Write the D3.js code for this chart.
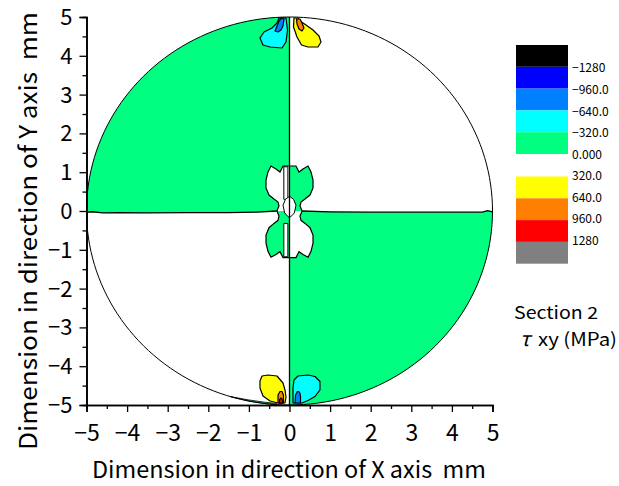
<!DOCTYPE html>
<html>
<head>
<meta charset="utf-8">
<script src="https://cdn.jsdelivr.net/npm/d3@7"></script>
<style>
  html, body { margin: 0; padding: 0; background: #fff; }
  svg { display: block; }
  text { font-family: "Noto Sans CJK JP", "Noto Sans", sans-serif; fill: #000; }
</style>
</head>
<body>
<svg id="chart" width="619" height="486"></svg>
<script>
// ---- Section 2, shear stress tau_xy contour map (values in MPa, positions in mm) ----
const radius = 5;
const xTicks = [-5, -4, -3, -2, -1, 0, 1, 2, 3, 4, 5];
const yTicks = [-5, -4, -3, -2, -1, 0, 1, 2, 3, 4, 5];
const minorTicks = [-4.5, -3.5, -2.5, -1.5, -0.5, 0.5, 1.5, 2.5, 3.5, 4.5];

// contour levels and band colours
const negLevels = ["−1280", "−960.0", "−640.0", "−320.0", "0.000"];
const negColors = ["#000000", "#0000ff", "#0080ff", "#00ffff", "#00ff80"];
const posLevels = ["320.0", "640.0", "960.0", "1280"];
const posColors = ["#ffff00", "#ff8000", "#ff0000", "#808080"];

// zero contour along the X axis
const zeroLineLeft = [[-5, -0.03], [-4.85, -0.02], [-4.6, -0.05], [-4.2, -0.04], [-3.5, -0.05], [-2.5, -0.04],
  [-1.5, -0.04], [-0.8, -0.03], [-0.31, 0]];
const zeroLineRight = [[0.31, 0], [1, -0.02], [2, -0.03], [3, -0.03], [4, -0.03], [4.75, -0.03], [4.88, 0.01], [5, -0.02]];

// lobes next to the centre (open outlines from the Y axis round to the X axis)
const lobeUpperLeft = [[0, 1.16], [-0.16, 1.16], [-0.234, 1.005], [-0.333, 1.082], [-0.456, 1.16], [-0.53, 1.005],
  [-0.579, 0.799], [-0.579, 0.593], [-0.505, 0.412], [-0.382, 0.309], [-0.283, 0.232], [-0.259, 0.129], [-0.31, 0]];
const lobeUpperRight = [[0, 1.16], [0.16, 1.16], [0.234, 1.005], [0.333, 1.082], [0.456, 1.16], [0.53, 1.005],
  [0.579, 0.799], [0.579, 0.593], [0.505, 0.412], [0.382, 0.309], [0.283, 0.232], [0.259, 0.129], [0.31, 0]];
const lobeLowerLeft = [[0, -1.2], [-0.16, -1.2], [-0.234, -1.05], [-0.333, -1.12], [-0.456, -1.19], [-0.53, -1.04],
  [-0.579, -0.83], [-0.579, -0.62], [-0.505, -0.43], [-0.382, -0.32], [-0.283, -0.24], [-0.259, -0.13], [-0.31, 0]];
const lobeLowerRight = [[0, -1.2], [0.16, -1.2], [0.234, -1.05], [0.333, -1.12], [0.456, -1.19], [0.53, -1.04],
  [0.579, -0.83], [0.579, -0.62], [0.505, -0.43], [0.382, -0.32], [0.283, -0.24], [0.259, -0.13], [0.31, 0]];

// narrow bands hugging the Y axis near the centre
const stripUpper = [[-0.14, 1.14], [-0.04, 1.14], [-0.04, 0.3], [-0.14, 0.3]];
const stripLower = [[-0.14, -0.32], [-0.04, -0.32], [-0.04, -1.18], [-0.14, -1.18]];
const centreKnot = [[-0.16, 0.15], [-0.1, 0.3], [0, 0.38], [0.1, 0.3], [0.16, 0.15], [0.12, -0.05], [0.03, -0.15],
  [-0.03, -0.15], [-0.12, -0.05]];

// concentrations at the top edge
const topCyan = [[-0.086, 4.974], [-0.049, 4.665], [-0.086, 4.356], [-0.185, 4.201], [-0.48, 4.227], [-0.653, 4.278],
  [-0.727, 4.459], [-0.628, 4.613], [-0.431, 4.716], [-0.308, 4.845], [-0.259, 4.974]];
const topBlue = [[-0.357, 4.639], [-0.308, 4.768], [-0.259, 4.897], [-0.197, 4.974], [-0.135, 4.948], [-0.16, 4.768],
  [-0.209, 4.665], [-0.283, 4.613]];
const topYellow = [[0.111, 4.974], [0.099, 4.742], [0.185, 4.485], [0.296, 4.278], [0.456, 4.227], [0.702, 4.227],
  [0.776, 4.356], [0.727, 4.51], [0.579, 4.665], [0.406, 4.794], [0.259, 4.897], [0.209, 4.974]];
const topOrange = [[0.172, 4.948], [0.185, 4.82], [0.234, 4.691], [0.308, 4.639], [0.357, 4.716], [0.308, 4.845],
  [0.259, 4.948]];

// concentrations at the bottom edge
const bottomYellow = [[-0.111, -4.948], [-0.086, -4.794], [-0.111, -4.613], [-0.16, -4.433], [-0.308, -4.253],
  [-0.53, -4.227], [-0.677, -4.253], [-0.727, -4.381], [-0.727, -4.562], [-0.653, -4.768], [-0.48, -4.897],
  [-0.283, -4.948]];
const bottomOrange = [[-0.283, -4.948], [-0.283, -4.742], [-0.234, -4.652], [-0.185, -4.652], [-0.148, -4.742],
  [-0.148, -4.948]];
const bottomRed = [[-0.246, -4.95], [-0.246, -4.86], [-0.209, -4.82], [-0.172, -4.86], [-0.172, -4.95]];
const bottomCyan = [[0.086, -4.948], [0.086, -4.562], [0.111, -4.356], [0.209, -4.253], [0.456, -4.227],
  [0.628, -4.265], [0.751, -4.394], [0.751, -4.613], [0.628, -4.781], [0.456, -4.884], [0.308, -4.948]];
const bottomBlue = [[0.136, -4.948], [0.148, -4.742], [0.197, -4.652], [0.246, -4.665], [0.271, -4.768],
  [0.271, -4.948]];
const bottomSliver = [[-1.45, -4.785], [-1.0, -4.87], [-0.6, -4.93], [-0.32, -4.96], [-0.32, -4.99], [-0.6, -4.964],
  [-1.0, -4.899], [-1.45, -4.785]];

// ---- drawing ----
const svg = d3.select("#chart");
const x = d3.scaleLinear().domain([-5, 5]).range([86.5, 492.5]);
const y = d3.scaleLinear().domain([-5, 5]).range([405, 17]);
const line = d3.line().x(d => x(d[0])).y(d => y(d[1]));
const closed = d3.line().x(d => x(d[0])).y(d => y(d[1])).curve(d3.curveLinearClosed);

function arc(a0, a1, n) {
  return d3.range(n + 1).map(i => {
    const a = a0 + (a1 - a0) * i / n;
    return [radius * Math.cos(a), radius * Math.sin(a)];
  });
}

const plot = svg.append("g");

// disc
plot.append("path").attr("d", closed(arc(0, 2 * Math.PI, 180))).attr("fill", "#fff");

// negative quadrants
const quadUpperLeft = arc(Math.PI, Math.PI / 2, 90).concat([[0, 0]], zeroLineLeft.slice().reverse());
const quadLowerRight = arc(0, -Math.PI / 2, 90).concat([[0, 0]], zeroLineRight);
plot.append("path").attr("d", closed(quadUpperLeft)).attr("fill", negColors[4]);
plot.append("path").attr("d", closed(quadLowerRight)).attr("fill", negColors[4]);
plot.append("path").attr("d", closed(bottomSliver)).attr("fill", negColors[4])
  .attr("stroke", "#000").attr("stroke-width", 0.8);

// lobes near the centre
const lobes = [
  { pts: lobeUpperLeft, fill: "#ffffff" },
  { pts: lobeUpperRight, fill: negColors[4] },
  { pts: lobeLowerLeft, fill: negColors[4] },
  { pts: lobeLowerRight, fill: "#ffffff" }
];
lobes.forEach(l => {
  plot.append("path").attr("d", closed([[0, 0]].concat(l.pts))).attr("fill", l.fill);
});
lobes.forEach(l => {
  plot.append("path").attr("d", line(l.pts)).attr("fill", "none").attr("stroke", "#000").attr("stroke-width", 1.2);
});

[stripUpper, stripLower].forEach(s => {
  plot.append("path").attr("d", closed(s)).attr("fill", "#fff").attr("stroke", "#000").attr("stroke-width", 1);
});
plot.append("path").attr("d", closed(centreKnot)).attr("fill", "#fff").attr("stroke", "#000").attr("stroke-width", 1);

// edge concentrations, outer band first
const blobs = [
  { pts: topCyan, fill: negColors[3] },
  { pts: topBlue, fill: negColors[2] },
  { pts: topYellow, fill: posColors[0] },
  { pts: topOrange, fill: posColors[1] },
  { pts: bottomYellow, fill: posColors[0] },
  { pts: bottomOrange, fill: posColors[1] },
  { pts: bottomRed, fill: posColors[2] },
  { pts: bottomCyan, fill: negColors[3] },
  { pts: bottomBlue, fill: negColors[2] }
];
blobs.forEach(b => {
  plot.append("path").attr("d", closed(b.pts)).attr("fill", b.fill)
    .attr("stroke", "#000").attr("stroke-width", 1.2).attr("stroke-linejoin", "round");
});

// zero contours along the axes
plot.append("path").attr("d", line([[0, 5], [0, -5]])).attr("stroke", "#000").attr("stroke-width", 1.3);
plot.append("path").attr("d", line(zeroLineLeft)).attr("fill", "none").attr("stroke", "#000").attr("stroke-width", 1.3);
plot.append("path").attr("d", line(zeroLineRight)).attr("fill", "none").attr("stroke", "#000").attr("stroke-width", 1.3);

// section outline
plot.append("path").attr("d", closed(arc(0, 2 * Math.PI, 180))).attr("fill", "none")
  .attr("stroke", "#000").attr("stroke-width", 1);

// ---- axes ----
const fmt = d3.format("d");
const xAxis = svg.append("g").attr("transform", `translate(0,${y(-5)})`)
  .call(d3.axisBottom(x).tickValues(xTicks).tickFormat(fmt).tickSize(7).tickPadding(13));
svg.append("g").attr("transform", `translate(0,${y(-5)})`)
  .call(d3.axisBottom(x).tickValues(minorTicks).tickFormat("").tickSize(4));
const yAxis = svg.append("g").attr("transform", `translate(${x(-5)},0)`)
  .call(d3.axisLeft(y).tickValues(yTicks).tickFormat(fmt).tickSize(7).tickPadding(7));
svg.append("g").attr("transform", `translate(${x(-5)},0)`)
  .call(d3.axisLeft(y).tickValues(minorTicks).tickFormat("").tickSize(4));

svg.selectAll(".domain").attr("stroke", "#000").attr("stroke-width", 1.6);
svg.selectAll(".tick line").attr("stroke", "#000").attr("stroke-width", 1.3);
xAxis.selectAll("text").attr("font-size", 23).attr("font-family", "Noto Sans CJK JP").attr("fill", "#000");
yAxis.selectAll("text").attr("font-size", 22).attr("font-family", "Noto Sans CJK JP").attr("fill", "#000")
  .attr("dy", "0.34em");

svg.append("text").attr("x", 289).attr("y", 478).attr("text-anchor", "middle")
  .attr("font-size", 23).attr("textLength", 394).attr("lengthAdjust", "spacingAndGlyphs")
  .text("Dimension in direction of X axis\u00a0\u00a0mm");
svg.append("text").attr("transform", "translate(37,231) rotate(-90)").attr("text-anchor", "middle")
  .attr("font-size", 24).attr("textLength", 438).attr("lengthAdjust", "spacingAndGlyphs")
  .text("Dimension in direction of Y axis\u00a0\u00a0mm");

// ---- legend ----
const legend = svg.append("g");
const boxX = 516, boxW = 52, boxH = 21.8;
const negTop = 45, posTop = 176.5;
negColors.forEach((c, i) => {
  legend.append("rect").attr("x", boxX).attr("y", negTop + i * boxH).attr("width", boxW).attr("height", boxH).attr("fill", c);
  legend.append("text").attr("x", 572).attr("y", negTop + (i + 1) * boxH + 1).attr("dy", "0.35em")
    .attr("font-size", 12).text(negLevels[i]);
});
posColors.forEach((c, i) => {
  legend.append("rect").attr("x", boxX).attr("y", posTop + i * boxH).attr("width", boxW).attr("height", boxH).attr("fill", c);
  legend.append("text").attr("x", 572).attr("y", posTop + i * boxH - 1).attr("dy", "0.35em")
    .attr("font-size", 12).text(posLevels[i]);
});

svg.append("text").attr("x", 514).attr("y", 319).attr("font-size", 17)
  .attr("textLength", 84).attr("lengthAdjust", "spacingAndGlyphs").text("Section 2");
const unit = svg.append("text").attr("x", 520).attr("y", 346).attr("font-size", 18);
unit.append("tspan").attr("font-style", "italic").attr("font-size", 20).text("τ");
unit.append("tspan").attr("x", 538).attr("textLength", 79).attr("lengthAdjust", "spacingAndGlyphs").text("xy (MPa)");
</script>
</body>
</html>
